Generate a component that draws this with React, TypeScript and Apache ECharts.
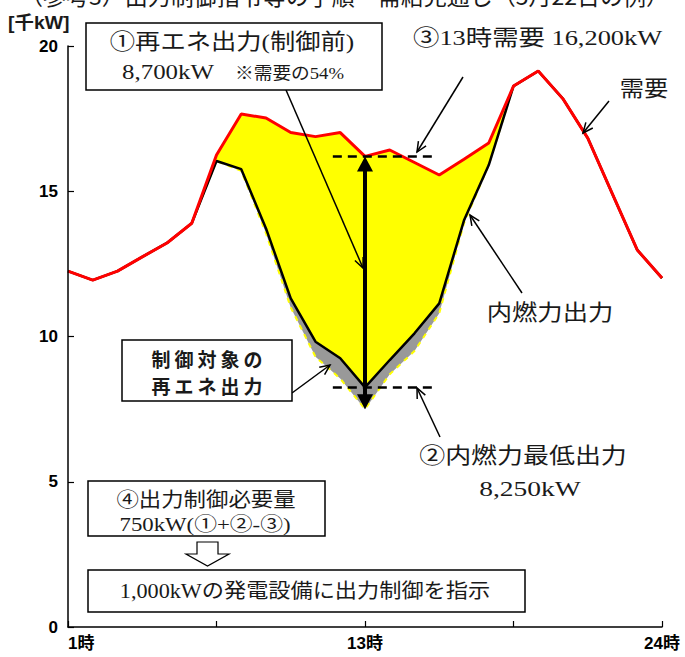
import React, { useEffect, useRef } from 'react';
import * as echarts from 'echarts';

// Hourly slots on the horizontal axis (slot 0 = 1時, slot 12 = 13時, slot 24 = 24時)
const hourSlots = [0, 1, 2, 3, 4, 5, 6, 7, 8, 9, 10, 11, 12, 13, 14, 15, 16, 17, 18, 19, 20, 21, 22, 23, 24];
const xTickLabels = ['1時', '', '13時', '', '24時'];

// 需要 [千kW]
const demand = [12.25, 11.94, 12.25, 12.74, 13.22, 13.9, 16.25, 17.66, 17.52, 17.02, 16.88, 17.02, 16.2, 16.42, 15.99, 15.56, 16.1, 16.66, 18.62, 19.14, 18.18, 16.83, 14.9, 12.98, 12.01];
// 内燃力出力 [千kW]
const internalCombustion = [12.25, 11.94, 12.25, 12.74, 13.22, 13.9, 16.04, 15.76, 13.72, 11.31, 9.82, 9.25, 8.25, 9.19, 10.11, 11.14, 14.0, 15.9, 18.62, 19.14, 18.18, 16.83, 14.9, 12.98, 12.01];
// 再エネ出力（制御前） [千kW]
const renewableBeforeControl = [0, 0, 0, 0, 0, 0, 0.21, 1.96, 3.97, 6.02, 7.58, 8.47, 8.7, 7.72, 6.49, 4.76, 2.2, 0.76, 0, 0, 0, 0, 0, 0, 0];

const SLOT_13 = 12;
const DEMAND_AT_13 = 16.2; // ③
const RENEWABLE_AT_13 = 8.7; // ①
const MIN_INTERNAL_OUTPUT = 8.25; // ②
const MARKER_FROM = 10.7;
const MARKER_TO = 14.9;

const SERIF = '"Liberation Serif", "DejaVu Serif", "Noto Sans CJK JP", serif';
const GOTHIC = '"Liberation Sans", "Noto Sans CJK JP", sans-serif';
const INK = '#1a1a1a';

const pairs = (vals: number[]) => hourSlots.map((h, i) => [h, vals[i]]);

// demand minus renewables: what 内燃力 would have to produce without curtailment
const residual = demand.map((d, i) => d - renewableBeforeControl[i]);

function arrow(x1: number, y1: number, x2: number, y2: number, head = 11, width = 1.5): any[] {
  const ang = Math.atan2(y2 - y1, x2 - x1);
  const a1 = ang + Math.PI - 0.42;
  const a2 = ang + Math.PI + 0.42;
  return [
    { type: 'line', shape: { x1, y1, x2, y2 }, style: { stroke: '#000', lineWidth: width } },
    {
      type: 'polyline',
      shape: {
        points: [
          [x2 + head * Math.cos(a1), y2 + head * Math.sin(a1)],
          [x2, y2],
          [x2 + head * Math.cos(a2), y2 + head * Math.sin(a2)],
        ],
      },
      style: { stroke: '#000', lineWidth: width, fill: 'none' },
    },
  ];
}

function box(x: number, y: number, w: number, h: number): any {
  return { type: 'rect', shape: { x, y, width: w, height: h }, style: { fill: '#fff', stroke: '#000', lineWidth: 1.5 } };
}

function label(text: string, x: number, y: number, size: number, stretch = 1, family = SERIF, align = 'center', weight = 'normal'): any {
  return {
    type: 'text',
    x,
    y,
    scaleX: stretch,
    style: { text, fontSize: size, fontFamily: family, fontWeight: weight, fill: INK, align, verticalAlign: 'middle' },
  };
}

function spaced(text: string, cx: number, y: number, pitch: number, size: number): any[] {
  const chars = Array.from(text);
  return chars.map((c, i) =>
    label(c, cx + (i - (chars.length - 1) / 2) * pitch, y, size, 1, '"Noto Sans CJK JP", sans-serif', 'center', 'bold')
  );
}

export default function App() {
  const ref = useRef<HTMLDivElement>(null);

  useEffect(() => {
    if (!ref.current) return;
    const chart = echarts.init(ref.current, undefined, { renderer: 'svg' });

    const flat = { showSymbol: false, silent: true, lineStyle: { opacity: 0 } };

    chart.setOption({
      animation: false,
      backgroundColor: '#fff',
      grid: { left: 68, right: 23, top: 46, bottom: 30 },
      xAxis: {
        type: 'value',
        z: 10,
        min: 0,
        max: 24,
        interval: 6,
        splitLine: { show: false },
        axisLine: { lineStyle: { color: '#000', width: 1.5 } },
        axisTick: { inside: true, length: 6, lineStyle: { color: '#000', width: 1.2 } },
        axisLabel: {
          formatter: (v: number) => xTickLabels[Math.round(v / 6)] ?? '',
          color: '#000',
          fontSize: 17,
          fontWeight: 'bold',
          fontFamily: GOTHIC,
          margin: 8,
          alignMinLabel: 'left',
          alignMaxLabel: 'center',
        },
      },
      yAxis: {
        type: 'value',
        z: 10,
        min: 0,
        max: 20,
        interval: 5,
        splitLine: { show: false },
        axisLine: { show: true, lineStyle: { color: '#000', width: 1.5 } },
        axisTick: { show: true, inside: true, length: 6, lineStyle: { color: '#000', width: 1.2 } },
        axisLabel: { color: '#000', fontSize: 17, fontWeight: 'bold', fontFamily: GOTHIC, margin: 10 },
      },
      series: [
        // layered fills: yellow under demand, grey under 内燃力, white under the residual
        { name: '再エネ出力', type: 'line', data: pairs(demand), ...flat, areaStyle: { color: '#ffff00', opacity: 1 } },
        { name: '制御対象の再エネ出力', type: 'line', data: pairs(internalCombustion), ...flat, areaStyle: { color: '#999999', opacity: 1 } },
        { name: 'residual', type: 'line', data: pairs(residual), ...flat, areaStyle: { color: '#ffffff', opacity: 1 } },
        {
          name: '再エネ出力（制御前）',
          type: 'line',
          data: pairs(residual),
          showSymbol: false,
          silent: true,
          lineStyle: { color: '#ffff00', width: 2, type: [5, 5] },
        },
        {
          name: '内燃力出力',
          type: 'line',
          data: pairs(internalCombustion),
          showSymbol: false,
          silent: true,
          lineStyle: { color: '#000', width: 2.5 },
          markLine: {
            silent: true,
            symbol: ['none', 'none'],
            label: { show: false },
            lineStyle: { color: '#000', width: 2.5, type: [9, 6] },
            data: [
              [{ coord: [MARKER_FROM, DEMAND_AT_13] }, { coord: [MARKER_TO, DEMAND_AT_13] }],
              [{ coord: [MARKER_FROM, MIN_INTERNAL_OUTPUT] }, { coord: [MARKER_TO, MIN_INTERNAL_OUTPUT] }],
            ],
          },
        },
        {
          name: '需要',
          type: 'line',
          data: pairs(demand),
          showSymbol: false,
          silent: true,
          lineStyle: { color: '#ff0000', width: 3 },
        },
      ],
    });

    const px = (x: number, y: number) => chart.convertToPixel({ gridIndex: 0 }, [x, y]) as number[];
    const [ax, top] = px(SLOT_13, DEMAND_AT_13);
    const [, bottom] = px(SLOT_13, DEMAND_AT_13 - RENEWABLE_AT_13);
    const headH = 15;
    const headW = 8;

    const elements: any[] = [
      // title (runs off the top edge)
      label('（参考3）出力制御指令等の手順・需給見通し（5月22日の例）', 20, -5, 23, 1, '"Noto Sans CJK JP", sans-serif', 'left'),
      label('[千kW]', 8, 23, 18, 1.08, GOTHIC, 'left', 'bold'),

      // 13時 renewable output: double arrow from demand down to residual
      { type: 'line', shape: { x1: ax, y1: top + headH - 2, x2: ax, y2: bottom - headH + 2 }, style: { stroke: '#000', lineWidth: 4 } },
      { type: 'polygon', shape: { points: [[ax, top], [ax - headW, top + headH], [ax + headW, top + headH]] }, style: { fill: '#000' } },
      { type: 'polygon', shape: { points: [[ax, bottom], [ax - headW, bottom - headH], [ax + headW, bottom - headH]] }, style: { fill: '#000' } },

      // ① callout
      ...arrow(286, 90, ax - 2, 268),
      box(86, 23, 296, 67),
      label('①再エネ出力(制御前)', 232, 42, 22, 1.15),
      label('8,700kW', 168, 72, 22, 1.13),
      label('※需要の54%', 235, 73, 17, 1.1, SERIF, 'left'),

      // ③ callout
      ...arrow(463, 77, 417, 152),
      label('③13時需要 16,200kW', 413, 37, 22, 1.2, SERIF, 'left'),

      // 需要
      ...arrow(609, 101, 583, 133),
      label('需要', 644, 88, 22, 1.1),

      // 内燃力出力
      ...arrow(522, 293, 470, 215),
      label('内燃力出力', 550, 313, 22, 1.15),

      // 制御対象の再エネ出力
      ...arrow(292, 393, 330, 365),
      box(122, 340, 170, 61),
      ...spaced('制御対象の', 207, 358, 23, 19),
      ...spaced('再エネ出力', 207, 385, 23, 19),

      // ② callout
      ...arrow(440, 437, 417, 388),
      label('②内燃力最低出力', 523, 456, 22, 1.18),
      label('8,250kW', 530, 488, 22, 1.25),

      // ④ and instruction
      box(88, 481, 237, 55),
      label('④出力制御必要量', 206, 500, 20, 1.12),
      label('750kW(①+②-③)', 205, 525, 19, 1.2),
      {
        type: 'polygon',
        shape: { points: [[197, 542], [218, 542], [218, 554], [229, 554], [207.5, 566], [186, 554], [197, 554]] },
        style: { fill: '#fff', stroke: '#000', lineWidth: 1.2 },
      },
      box(88, 570, 437, 42),
      label('1,000kWの発電設備に出力制御を指示', 305, 591, 20, 1.11),
    ];

    chart.setOption({ graphic: elements.map((e) => ({ ...e, z: 100 })) });

    return () => chart.dispose();
  }, []);

  return <div ref={ref} style={{ position: 'absolute', left: 0, top: 0, width: 685, height: 657 }} />;
}
